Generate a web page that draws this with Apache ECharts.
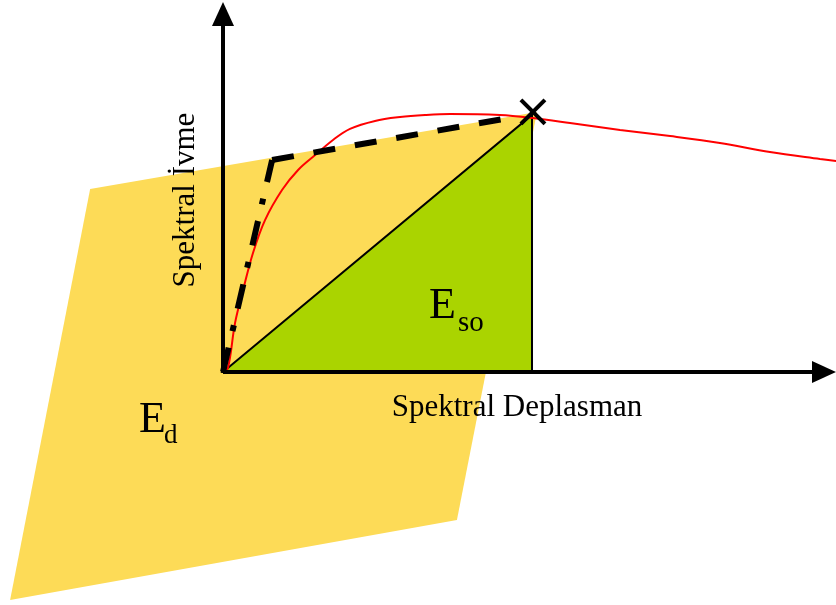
<!DOCTYPE html>
<html>
<head>
<meta charset="utf-8">
<script src="https://cdn.jsdelivr.net/npm/echarts@6/dist/echarts.min.js"></script>
<style>
  html, body { margin: 0; padding: 0; background: #fff; }
  #main { width: 836px; height: 605px; }
</style>
</head>
<body>
<div id="main"></div>
<script>
// E_d parallelogram (yellow)
var edX = [-4.30, 10.16, 7.57, -6.89]
var edY = [7.12, 10.12, -5.76, -8.87]
// E_so triangle (green)
var esoX = [0, 10, 10]
var esoY = [0, 10, 0]
// capacity curve (red)
var capX = [0, 0.16, 0.39, 0.65, 0.97, 1.36, 1.91, 2.43, 2.98, 3.56, 4.11, 4.92, 5.73, 6.54, 7.35, 8.96, 10.03, 11.23, 12.85, 14.47, 16.08, 17.70, 19.32, 19.84]
var capY = [0, 0.16, 1.91, 3.19, 4.63, 5.91, 7.08, 7.86, 8.44, 9.03, 9.46, 9.77, 9.92, 10.00, 10.04, 10.00, 9.88, 9.69, 9.42, 9.18, 8.91, 8.56, 8.29, 8.21]
// bilinear idealisation (black)
var elasX = [0, 1.59]
var elasY = [0, 8.25]
var plasX = [1.59, 9.61]
var plasY = [8.25, 9.96]
// performance point
var perfX = [10.03]
var perfY = [10.12]
// axis ends
var axisEndX = 19.45
var axisEndY = 13.93

function pairs (xs, ys) {
  return xs.map(function (x, i) { return [x, ys[i]] })
}

function polygonItem (xs, ys, style) {
  return function (params, api) {
    var pts = xs.map(function (x, i) { return api.coord([x, ys[i]]) })
    return { type: 'polygon', shape: { points: pts }, style: style }
  }
}

var chart = echarts.init(document.getElementById('main'))
var serif = 'Liberation Serif, Times New Roman, serif'

var option = {
  animation: false,
  grid: { left: 0, right: 0, top: 0, bottom: 0 },
  xAxis: { type: 'value', min: -7.217, max: 19.838, show: false },
  yAxis: { type: 'value', min: -9.066, max: 14.475, show: false },
  series: [
    {
      type: 'custom',
      silent: true,
      clip: false,
      z: 1,
      data: [[0, 0]],
      renderItem: polygonItem(edX, edY, { fill: '#fddb57' })
    },
    {
      type: 'custom',
      silent: true,
      clip: false,
      z: 2,
      data: [[0, 0]],
      renderItem: polygonItem(esoX, esoY, { fill: '#aad400', stroke: '#000', lineWidth: 2 })
    },
    {
      type: 'line',
      silent: true,
      z: 3,
      smooth: 0.35,
      symbol: 'none',
      lineStyle: { color: '#ff0000', width: 2 },
      data: pairs(capX, capY)
    },
    {
      type: 'line',
      silent: true,
      z: 4,
      symbol: 'none',
      lineStyle: { color: '#000', width: 6, type: [25, 17, 6, 17], cap: 'butt' },
      data: pairs(elasX, elasY)
    },
    {
      type: 'line',
      silent: true,
      z: 4,
      symbol: 'none',
      lineStyle: { color: '#000', width: 6, type: [22, 20], cap: 'butt' },
      data: pairs(plasX, plasY)
    },
    {
      // axes with arrow heads
      type: 'line',
      silent: true,
      z: 5,
      symbol: 'none',
      data: [],
      markLine: {
        silent: true,
        symbol: ['none', 'triangle'],
        symbolSize: [22, 24],
        label: { show: false },
        lineStyle: { color: '#000', width: 4, type: 'solid' },
        emphasis: { disabled: true },
        data: [
          [{ coord: [0, 0] }, { coord: [axisEndX, 0] }],
          [{ coord: [0, 0] }, { coord: [0, axisEndY] }]
        ]
      }
    },
    {
      type: 'custom',
      silent: true,
      clip: false,
      z: 6,
      data: pairs(perfX, perfY),
      renderItem: function (params, api) {
        var c = api.coord([api.value(0), api.value(1)])
        var r = 12
        var st = { stroke: '#000', lineWidth: 4 }
        return {
          type: 'group',
          children: [
            { type: 'line', shape: { x1: c[0] - r, y1: c[1] - r, x2: c[0] + r, y2: c[1] + r }, style: st },
            { type: 'line', shape: { x1: c[0] - r, y1: c[1] + r, x2: c[0] + r, y2: c[1] - r }, style: st }
          ]
        }
      }
    }
  ],
  graphic: [
    {
      type: 'text',
      z: 100,
      x: 186,
      y: 200,
      rotation: Math.PI / 2,
      style: { text: 'Spektral İvme', font: '31px ' + serif, fill: '#000', align: 'center', verticalAlign: 'middle' }
    },
    {
      type: 'text',
      z: 100,
      x: 517,
      y: 408,
      style: { text: 'Spektral Deplasman', font: '31px ' + serif, fill: '#000', align: 'center', verticalAlign: 'middle' }
    },
    {
      type: 'text',
      z: 100,
      x: 429,
      y: 306,
      style: { text: 'E', font: '44px ' + serif, fill: '#000', align: 'left', verticalAlign: 'middle' }
    },
    {
      type: 'text',
      z: 100,
      x: 458,
      y: 323,
      style: { text: 'so', font: '29px ' + serif, fill: '#000', align: 'left', verticalAlign: 'middle' }
    },
    {
      type: 'text',
      z: 100,
      x: 139,
      y: 420,
      style: { text: 'E', font: '44px ' + serif, fill: '#000', align: 'left', verticalAlign: 'middle' }
    },
    {
      type: 'text',
      z: 100,
      x: 164,
      y: 436,
      style: { text: 'd', font: '27px ' + serif, fill: '#000', align: 'left', verticalAlign: 'middle' }
    }
  ]
}

chart.setOption(option)
</script>
</body>
</html>
